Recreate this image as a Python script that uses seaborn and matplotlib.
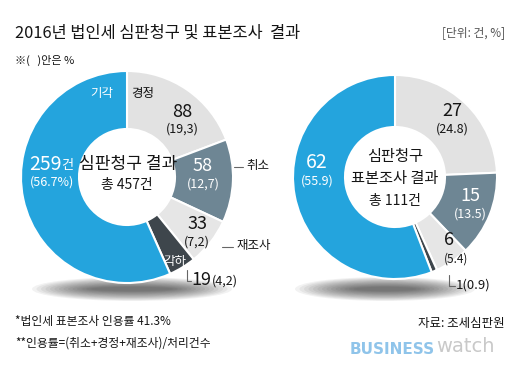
import numpy as np
import pandas as pd
import seaborn as sns
import matplotlib.pyplot as plt
from matplotlib.patches import Ellipse

# 심판청구 결과 (left donut), clockwise from top
appeal_labels = ['경정', '취소', '재조사', '각하', '기각']
appeal_counts = [88, 58, 33, 19, 259]
appeal_pct = ['19,3', '12,7', '7,2', '4,2', '56.7%']

# 심판청구 표본조사 결과 (right donut)
sample_counts = [27, 15, 6, 1, 62]
sample_pct = ['24.8', '13.5', '5.4', '0.9', '55.9']

colors = ['#e2e2e2', '#6e8694', '#e6e6e6', '#3e464c', '#24a4dd']

H = 371


def Y(y):
    # reference pixel rows -> data coords
    return H - y


def main():
    sns.set_theme(style='white')
    plt.rcParams['font.family'] = ['Noto Sans CJK KR', 'DejaVu Sans']

    fig = plt.figure(figsize=(5.2, 3.71), dpi=100)
    fig.patch.set_facecolor('white')
    ax = fig.add_axes([0, 0, 1, 1])

    # soft shadows under both donuts
    for cx, w in [(132, 200), (385, 180)]:
        for i in range(14):
            ax.add_patch(Ellipse((cx, Y(289)), w - i * 9, 24 - i * 1.5,
                                 color='#000000', alpha=0.05, lw=0, zorder=0))

    df_l = pd.DataFrame({'label': appeal_labels, 'count': appeal_counts})
    df_r = pd.DataFrame({'label': appeal_labels, 'count': sample_counts})

    ax.pie(df_l['count'], colors=colors, startangle=90, counterclock=False,
           center=(127, Y(177)), radius=106,
           wedgeprops=dict(width=58, edgecolor='white', linewidth=1.5))
    ax.pie(df_r['count'], colors=colors, startangle=90, counterclock=False,
           center=(395, Y(177)), radius=102,
           wedgeprops=dict(width=52, edgecolor='white', linewidth=1.5))
    ax.set_xlim(0, 520)
    ax.set_ylim(0, H)
    ax.set_aspect('equal')
    ax.axis('off')

    dark = '#151515'
    line_c = '#666666'
    # title and header
    ax.text(15, Y(33), '2016년 법인세 심판청구 및 표본조사  결과', fontsize=11.8,
            color=dark, ha='left', va='center')
    ax.text(505, Y(33), '[단위: 건, %]', fontsize=8.5, color='#555555',
            ha='right', va='center')
    ax.text(15, Y(60), '※(   )안은 %', fontsize=8, color=dark,
            ha='left', va='center')

    # left donut labels
    ax.text(102, Y(94), '기각', fontsize=9, color='white', ha='center', va='center')
    ax.text(143, Y(94), '경정', fontsize=9, color=dark, ha='center', va='center')
    ax.text(182, Y(112), str(appeal_counts[0]), fontsize=13, color=dark,
            ha='center', va='center')
    ax.text(182, Y(129), '(%s)' % appeal_pct[0], fontsize=9, color=dark,
            ha='center', va='center')
    ax.text(203, Y(166), str(appeal_counts[1]), fontsize=13, color='white',
            ha='center', va='center')
    ax.text(203, Y(184), '(%s)' % appeal_pct[1], fontsize=9, color='white',
            ha='center', va='center')
    ax.plot([234, 243], [Y(167), Y(167)], color=line_c, lw=0.8)
    ax.text(246, Y(166), '취소', fontsize=9, color=dark, ha='left', va='center')
    ax.text(197, Y(224), str(appeal_counts[2]), fontsize=13, color=dark,
            ha='center', va='center')
    ax.text(197, Y(242), '(%s)' % appeal_pct[2], fontsize=9, color=dark,
            ha='center', va='center')
    ax.plot([222, 233], [Y(247), Y(247)], color=line_c, lw=0.8)
    ax.text(237, Y(246), '재조사', fontsize=9, color=dark, ha='left', va='center')
    ax.text(175, Y(261), '각하', fontsize=9, color='white', ha='center', va='center')
    ax.plot([187, 187, 191], [Y(270), Y(281), Y(281)], color=line_c, lw=0.8)
    ax.text(191, Y(280), str(appeal_counts[3]), fontsize=13, color=dark,
            ha='left', va='center')
    ax.text(212, Y(281), '(%s)' % appeal_pct[3], fontsize=9, color=dark,
            ha='left', va='center')
    ax.text(62, Y(164), str(appeal_counts[4]), fontsize=14, color='white',
            ha='right', va='center')
    ax.text(61, Y(165), '건', fontsize=9.5, color='white', ha='left', va='center')
    ax.text(52, Y(182), '(%s)' % appeal_pct[4], fontsize=9, color='white',
            ha='center', va='center')
    ax.text(128, Y(164), '심판청구 결과', fontsize=12.3, color=dark,
            ha='center', va='center')
    ax.text(127, Y(185), '총 %d건' % sum(appeal_counts), fontsize=10, color=dark,
            ha='center', va='center')

    # right donut labels
    ax.text(452, Y(111), str(sample_counts[0]), fontsize=13, color=dark,
            ha='center', va='center')
    ax.text(452, Y(129), '(%s)' % sample_pct[0], fontsize=9, color=dark,
            ha='center', va='center')
    ax.text(470, Y(196), str(sample_counts[1]), fontsize=13, color='white',
            ha='center', va='center')
    ax.text(470, Y(214), '(%s)' % sample_pct[1], fontsize=9, color='white',
            ha='center', va='center')
    ax.text(449, Y(240), str(sample_counts[2]), fontsize=13, color=dark,
            ha='center', va='center')
    ax.text(456, Y(259), '(%s)' % sample_pct[2], fontsize=8.5, color=dark,
            ha='center', va='center')
    ax.plot([449, 449, 455], [Y(275), Y(286), Y(286)], color=line_c, lw=0.8)
    ax.text(456, Y(285), '%d(%s)' % (sample_counts[3], sample_pct[3]),
            fontsize=9.5, color=dark, ha='left', va='center')
    ax.text(317, Y(162), str(sample_counts[4]), fontsize=14, color='white',
            ha='center', va='center')
    ax.text(317, Y(181), '(%s)' % sample_pct[4], fontsize=9, color='white',
            ha='center', va='center')
    ax.text(395, Y(156), '심판청구', fontsize=11, color=dark,
            ha='center', va='center')
    ax.text(395, Y(178), '표본조사 결과', fontsize=11, color=dark,
            ha='center', va='center')
    ax.text(395, Y(201), '총 %d건' % sum(sample_counts), fontsize=10, color=dark,
            ha='center', va='center')

    # footnotes
    ax.text(15, Y(321), '*법인세 표본조사 인용률 41.3%', fontsize=8.5, color=dark,
            ha='left', va='center')
    ax.text(15, Y(343), '**인용률=(취소+경정+재조사)/처리건수', fontsize=8.5,
            color=dark, ha='left', va='center')
    ax.text(505, Y(323), '자료: 조세심판원', fontsize=9, color=dark,
            ha='right', va='center')
    ax.text(435, Y(349), 'BUSINESS', fontsize=11, color='#8fc4ea',
            fontweight='bold', family='DejaVu Sans', ha='right', va='center')
    ax.text(436, Y(347), 'watch', fontsize=14, color='#c9c9c9',
            family='DejaVu Sans', ha='left', va='center')

    fig.savefig('out.png', dpi=100, facecolor='white')


if __name__ == '__main__':
    main()
